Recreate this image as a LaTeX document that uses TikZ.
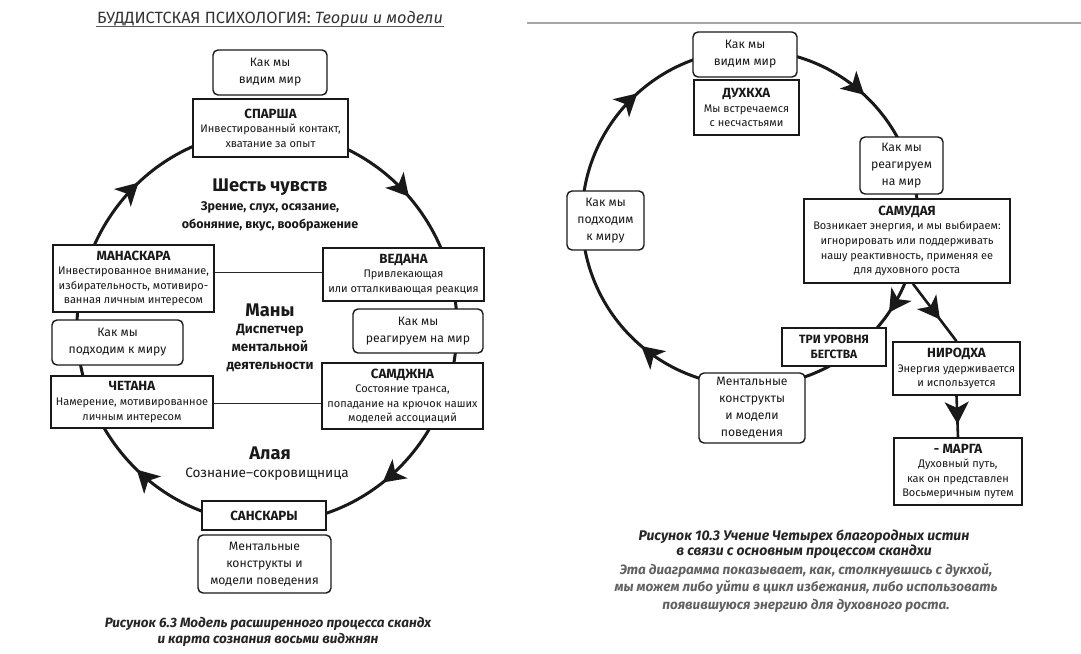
\documentclass[tikz,border=0pt]{standalone}
\usepackage{fontspec}
\setmainfont{Fira Sans}
\usetikzlibrary{arrows.meta,decorations.markings,calc}
\tikzset{
  box/.style={draw=black!90, line width=1.6pt, fill=white, inner sep=1pt, align=center,
    text=black!90, font=\fontsize{11}{14.6}\selectfont},
  rbox/.style={box, rounded corners=5pt, line width=1.4pt, font=\fontsize{12.2}{17}\selectfont},
  ring/.style={draw=black!90, line width=3pt},
  conn/.style={draw=black!85, line width=1pt},
  bigt/.style={align=center, text=black!90, font=\bfseries\fontsize{18.3}{20}\selectfont},
  subt/.style={align=center, text=black!90, font=\bfseries\fontsize{12.5}{18}\selectfont},
  capt/.style={align=center, text=black!85, font=\bfseries\itshape\fontsize{13.5}{16}\selectfont},
  bighead/.tip={Stealth[length=22pt,width=24pt,inset=6pt]}
}
\newcommand{\bt}[1]{{\bfseries\fontsize{13.3}{15}\selectfont #1}}
\begin{document}
\begin{tikzpicture}[x=1pt,y=-1pt]
\useasboundingbox (0,0) rectangle (1081,653);
\fill[white] (0,0) rectangle (1081,653);

% ---------- left panel ----------
\node[text=black!80, font=\fontsize{16.3}{18}\selectfont, inner sep=1pt] (title) at (270,19) {БУДДИСТСКАЯ ПСИХОЛОГИЯ: \textit{Теории и модели}};
\draw[black!65, line width=1.3pt] (title.south west) ++(0,-1.5) coordinate (tl) -- (tl -| title.south east);

\draw[ring, postaction={decorate}, decoration={markings,
   mark=at position 0.147 with {\arrow{bighead}},
   mark=at position 0.369 with {\arrow{bighead}},
   mark=at position 0.633 with {\arrow{bighead}},
   mark=at position 0.883 with {\arrow{bighead}}}]
   (267,327) ellipse [x radius=190, y radius=196];

\node[rbox, minimum width=114pt, minimum height=45pt] (seeL) at (270,72.5) {Как мы\\видим мир};
\node[box, minimum width=155pt, minimum height=58pt] (sparsha) at (270.5,128) {\bt{СПАРША}\\Инвестированный контакт,\\хватание за опыт};
\node[bigt] (six) at (270,187) {Шесть чувств};
\node[subt] (sixs) at (270,216) {Зрение, слух, осязание,\\обоняние, вкус, воображение};

\node[box, minimum width=161pt, minimum height=67pt] (manaskara) at (133.5,278.5) {\bt{МАНАСКАРА}\\Инвестированное внимание,\\избирательность, мотивиро-\\ванная личным интересом};
\node[box, minimum width=161pt, minimum height=53pt] (vedana) at (403.5,274.5) {\bt{ВЕДАНА}\\Привлекающая\\или отталкивающая реакция};
\draw[conn] (manaskara.east |- 0,272) -- (vedana.west |- 0,272);

\node[bigt] (many) at (270,310) {Маны};
\node[subt, font=\bfseries\fontsize{13.5}{18}\selectfont] (manys) at (270,348) {Диспетчер\\ментальной\\деятельности};

\node[rbox, minimum width=131pt, minimum height=45pt] (approachL) at (117.5,342.5) {Как мы\\подходим к миру};
\node[rbox, minimum width=130pt, minimum height=44pt] (reactL) at (418,331) {Как мы\\реагируем на мир};

\node[box, minimum width=162pt, minimum height=52pt] (chetana) at (132,402) {\bt{ЧЕТАНА}\\Намерение, мотивированное\\личным интересом};
\node[box, minimum width=161pt, minimum height=66pt] (samjna) at (402.5,396) {\bt{САМДЖНА}\\Состояние транса,\\попадание на крючок наших\\моделей ассоциаций};
\draw[conn] (chetana.east |- 0,403) -- (samjna.west |- 0,403);

\node[bigt] (alaya) at (270,453) {Алая};
\node[text=black!90, font=\fontsize{13.6}{15}\selectfont] (alayas) at (267,474) {Сознание--сокровищница};

\node[box, minimum width=124pt, minimum height=29pt] (sanskary) at (264,515.5) {\bt{САНСКАРЫ}};
\node[rbox, minimum width=133pt, minimum height=58pt] (mentalL) at (264.5,564) {Ментальные\\конструкты и\\модели поведения};

\node[capt] (capL) at (268,632) {Рисунок 6.3 Модель расширенного процесса скандх\\и карта сознания восьми виджнян};

% ---------- right panel ----------
\draw[black!35, line width=1.2pt] (527,23) -- (1081,23);

\draw[ring, postaction={decorate}, decoration={markings,
   mark=at position 0.095 with {\arrow{bighead}},
   mark=at position 0.362 with {\arrow{bighead}},
   mark=at position 0.633 with {\arrow{bighead}},
   mark=at position 0.869 with {\arrow{bighead}}}]
   (750,218) circle [radius=168];

\node[rbox, minimum width=104pt, minimum height=45pt] (seeR) at (745,54.5) {Как мы\\видим мир};
\node[box, minimum width=105pt, minimum height=55pt] (dukkha) at (746.5,107.5) {\bt{ДУХКХА}\\Мы встречаемся\\с несчастьями};
\node[rbox, minimum width=83pt, minimum height=57pt] (reactR) at (901.5,165.5) {Как мы\\реагируем\\на мир};
\node[box, minimum width=206pt, minimum height=84pt] (samudaya) at (907,241) {\bt{САМУДАЯ}\\Возникает энергия, и мы выбираем:\\игнорировать или поддерживать\\нашу реактивность, применяя ее\\для духовного роста};
\node[rbox, minimum width=77pt, minimum height=59pt] (approachR) at (605.5,220.5) {Как мы\\подходим\\к миру};
\node[box, minimum width=104pt, minimum height=38pt, font=\bfseries\fontsize{12}{15}\selectfont] (tri) at (834,347) {ТРИ УРОВНЯ\\БЕГСТВА};
\node[rbox, minimum width=106pt, minimum height=70pt] (mentalR) at (752,408) {Ментальные\\конструкты\\и модели\\поведения};
\node[box, minimum width=127pt, minimum height=53pt] (nirodha) at (956.5,368.5) {\bt{НИРОДХА}\\Энергия удерживается\\и используется};
\node[box, minimum width=128pt, minimum height=67pt] (marga) at (958,471.5) {\bt{- МАРГА}\\Духовный путь,\\как он представлен\\Восьмеричным путем};

\draw[draw=black!90, line width=2.6pt, postaction={decorate}, decoration={markings,
   mark=at position 0.62 with {\arrow{bighead}}}]
   ($(samudaya.south)+(6,0)$) -- (nirodha.north);
\draw[draw=black!90, line width=2.6pt, postaction={decorate}, decoration={markings,
   mark=at position 0.68 with {\arrow{bighead}}}]
   (nirodha.south) -- (marga.north);

\node[capt, font=\bfseries\itshape\fontsize{14}{15.5}\selectfont] (capR1) at (804,544) {Рисунок 10.3 Учение Четырех благородных истин\\в связи с основным процессом скандхи};
\node[capt, font=\itshape\bfseries\fontsize{13.5}{17.5}\selectfont, text=black!62] (capR2) at (806,588) {Эта диаграмма показывает, как, столкнувшись с дукхой,\\мы можем либо уйти в цикл избежания, либо использовать\\появившуюся энергию для духовного роста.};
\end{tikzpicture}
\end{document}
